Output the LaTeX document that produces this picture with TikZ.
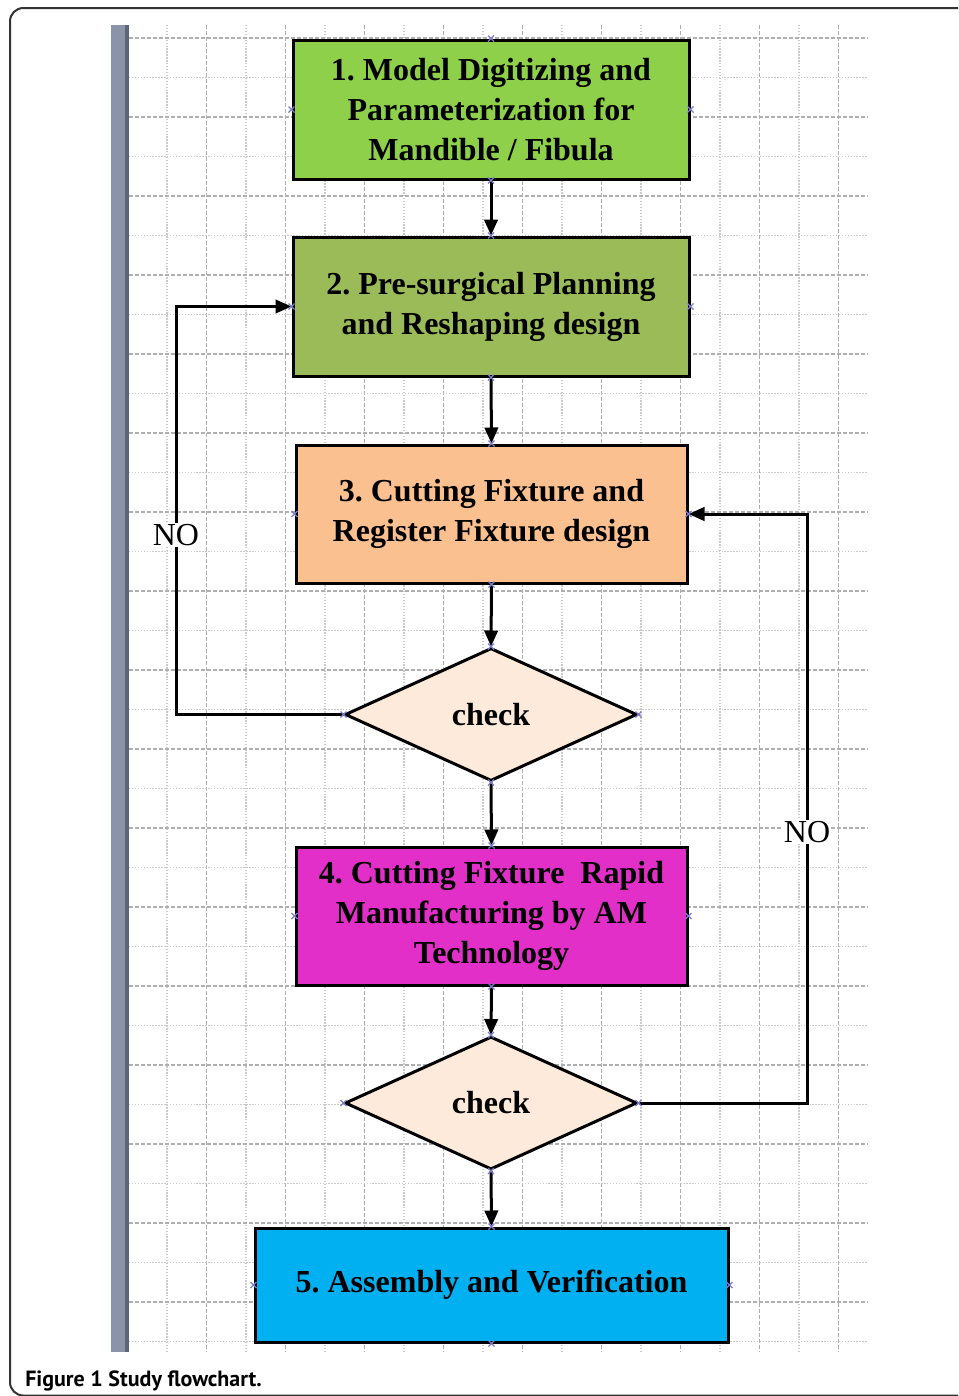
\documentclass[tikz,border=0pt]{standalone}
\usepackage{fontspec}
\setmainfont{Liberation Serif}
\newfontfamily\capfont{PT Sans}
\usetikzlibrary{shapes.geometric,arrows.meta}
\frenchspacing
\definecolor{cOne}{HTML}{8FD04A}
\definecolor{cTwo}{HTML}{9BBB59}
\definecolor{cThree}{HTML}{FAC090}
\definecolor{cDia}{HTML}{FDEADB}
\definecolor{cFour}{HTML}{E22FC8}
\definecolor{cFive}{HTML}{00B0F0}
\definecolor{cBar}{HTML}{8A93A8}
\definecolor{cBarD}{HTML}{5C6476}
\definecolor{cGridA}{HTML}{AFAFAF}
\definecolor{cGridB}{HTML}{CACACA}
\definecolor{cMark}{HTML}{7C7CCC}
\definecolor{cFrame}{HTML}{333333}
\tikzset{
  stepbox/.style={draw=black, line width=2.25pt, align=center, inner sep=0pt,
    font=\fontsize{24}{30}\selectfont\bfseries},
  checkdia/.style={diamond, draw=black, line width=2.25pt, fill=cDia, inner sep=0pt,
    minimum width=219pt, minimum height=99.75pt, font=\fontsize{24}{30}\selectfont\bfseries},
  conn/.style={line width=2.25pt, -{Triangle[length=12pt,width=10pt]}},
  nolabel/.style={fill=white, inner sep=1pt, font=\fontsize{24}{30}\selectfont},
  gridA/.style={cGridA, line width=0.8pt, dash pattern=on 3pt off 1.5pt},
  gridB/.style={cGridB, line width=0.8pt, dash pattern=on 1pt off 1.2pt},
  cmark/.style={cMark, line width=0.9pt}
}
\begin{document}
\begin{tikzpicture}[x=0.75pt,y=-0.75pt]
\useasboundingbox (0,0) rectangle (958,1396);
\clip (0,0) rectangle (958,1396);
\fill[white] (0,0) rectangle (958,1396);
% outer frame
\draw[cFrame, line width=1.5pt, rounded corners=10pt] (10,8) rectangle (1000,1395.5);
% grid
\foreach \j in {0,...,8} {
  \draw[gridB] ({167+79*\j},25) -- ({167+79*\j},1352);
  \draw[gridA] ({206.5+79*\j},25) -- ({206.5+79*\j},1352);
}
\foreach \j in {0,...,16} {
  \draw[gridA] (129,{38+79*\j}) -- (868,{38+79*\j});
  \draw[gridB] (129,{77.5+79*\j}) -- (868,{77.5+79*\j});
}
% gray bar
\fill[cBar] (111,25) rectangle (129,1352);
\fill[cBarD] (125,25) rectangle (129,1352);
% nodes
\node[stepbox, fill=cOne, minimum width=297pt, minimum height=104.25pt] (b1) at (491,109.5)
  {1. Model Digitizing and\\Parameterization for\\Mandible / Fibula};
\node[stepbox, fill=cTwo, minimum width=297pt, minimum height=104.25pt] (b2) at (491,306.5)
  {2. Pre-surgical Planning\\and Reshaping design};
\node[stepbox, fill=cThree, minimum width=293.25pt, minimum height=103.5pt] (b3) at (491.5,514)
  {3. Cutting Fixture and\\Register Fixture design};
\node[checkdia] (d1) at (491,714.5) {check};
\node[stepbox, fill=cFour, minimum width=293.25pt, minimum height=103.5pt] (b4) at (491.5,916)
  {4. Cutting Fixture~ Rapid\\Manufacturing by AM\\Technology};
\node[checkdia] (d2) at (491,1103) {check};
\node[stepbox, fill=cFive, minimum width=354.75pt, minimum height=85.5pt] (b5) at (491.5,1285)
  {5. Assembly and Verification};
% connectors
\draw[conn] (b1.south) -- (b2.north);
\draw[conn] (b2.south) -- (b3.north);
\draw[conn] (b3.south) -- (d1.north);
\draw[conn] (d1.south) -- (b4.north);
\draw[conn] (b4.south) -- (d2.north);
\draw[conn] (d2.south) -- (b5.north);
\coordinate (nl1) at (176,714.5);
\coordinate (nl2) at (176,306.5);
\draw[conn] (d1.west) -- (nl1) -- node[nolabel, pos=0.44] (no1) {NO} (nl2) -- (b2.west);
\coordinate (nr1) at (807,1103);
\coordinate (nr2) at (807,514);
\draw[conn] (d2.east) -- (nr1) -- node[nolabel, pos=0.46] (no2) {NO} (nr2) -- (b3.east);
% connection markers
\foreach \n in {b1,b2,b3,d1,b4,d2,b5} {
  \foreach \a in {north,south,east,west} {
    \draw[cmark] ([shift={(-3,-3)}]\n.\a) -- ([shift={(3,3)}]\n.\a)
                 ([shift={(-3,3)}]\n.\a) -- ([shift={(3,-3)}]\n.\a);
  }
}
% caption
\node[anchor=base west, inner sep=0pt, font=\capfont\bfseries\fontsize{16.5}{18}\selectfont] (cap) at (25,1386)
  {Figure 1 Study flowchart.};
\end{tikzpicture}
\end{document}
